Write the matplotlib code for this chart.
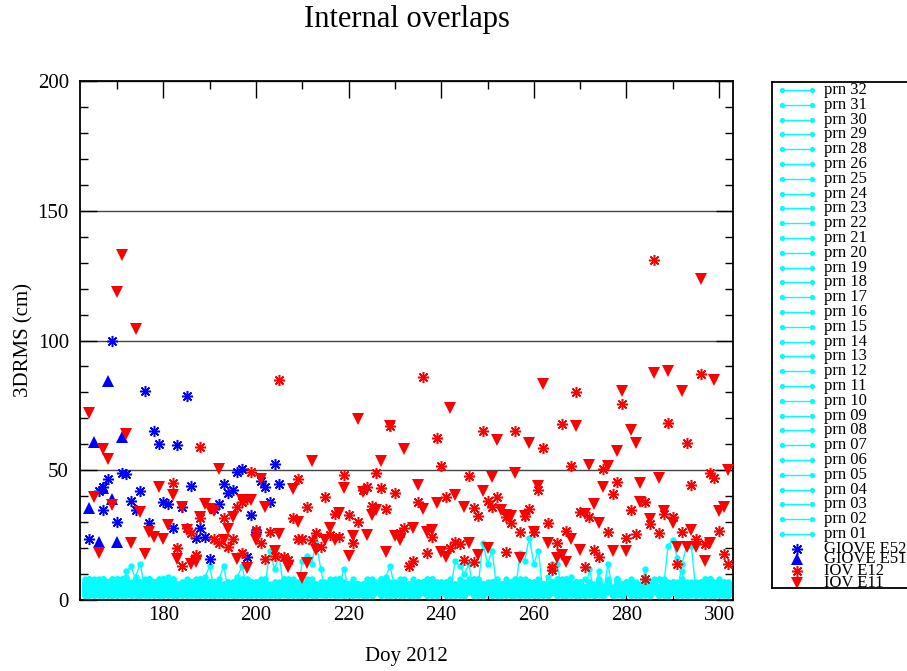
import numpy as np
import matplotlib
matplotlib.use("Agg")
import matplotlib.pyplot as plt
from matplotlib.ticker import MultipleLocator

plt.rcParams['font.family'] = ['Liberation Serif', 'DejaVu Serif']

# ---------------- data ----------------
FIRST_DAY = 163
# daily 3DRMS (cm) per GPS prn, one character per day from doy 163 (base-36 digit)
PRN_NAMES = ["prn 32", "prn 31", "prn 30", "prn 29", "prn 28", "prn 26", "prn 25", "prn 24",
             "prn 23", "prn 22", "prn 21", "prn 20", "prn 19", "prn 18", "prn 17", "prn 16",
             "prn 15", "prn 14", "prn 13", "prn 12", "prn 11", "prn 10", "prn 09", "prn 08",
             "prn 07", "prn 06", "prn 05", "prn 04", "prn 03", "prn 02", "prn 01"]
PRN_DAILY = [
    "4635243726 3452634257 3243524362 4325342634 2435243625 3425342634 2354326543 2435324635 3246532453 4235342563 2453624354 3524352643 2435362452 3542634253",
    "2547362435 6243527342 4362534273 2534263524 3426352435 2436243524 3524362435 4253426354 2436524352 3425436253 4352634253 2436352435 3524263542 4352436253",
    "6857465786 5746857647 6587465746 5748657465 6475846576 4657486574 5764857465 6547586475 4658475647 5746584756 6475867546 4756485746 5847564758 4657485647",
    "3462538264 3527362453 4263524372 4352436253 3524362435 2634253624 3524352643 2536243526 3425342634 2543624352 3524362534 2634253426 3524352634 2536243526",
    "6243725346 2547263524 3625437253 2436253425 4352634253 2435342536 4253624352 3524263543 2634253524 3426352435 2534263524 3625342536 4253426352 3524362453",
    "2736452837 4253624735 2436253425 3625342634 2536243524 3425362435 2534263524 3524352436 4253426352 2634253624 3524362435 2435263524 3624352634 2543524362",
    "7568476587 6475867548 5746587465 4657486574 5748657468 6574856475 4756486574 6574857465 5847564758 6475846576 4758647586 5647586475 6574856475 7465847564",
    "3725463527 2435263742 5243624352 3524352634 2635243624 3524263542 2436352435 3524362534 2435263524 3624352436 2534262435 3524263524 3625342534 2436253426",
    "5243627354 3725462534 2634253426 3524362435 2534263524 3624352634 2435243625 3526342534 2436243524 3524362453 2634253426 3425342634 2536243524 3524362435",
    "2634725436 2543627352 4352634253 2435263524 3624352436 2534253624 3425362435 2634253524 3524263542 4253426352 3524362435 2634253426 3524352634 2536243524",
    "5746857468 7564857486 4657485746 6574865748 4758647586 5647586475 6584756485 4756485746 6475846576 5748657465 6587465746 4657486574 5764857465 6547586475",
    "4263527364 2537264352 3624352436 2534253624 3426352435 2634253524 3524263542 2436352435 3524362534 2435263524 3624352436 2534262435 3524263524 3625342534",
    "2836452736 3452736254 2354326543 2435324635 2435243625 3425342634 4235342563 3246532453 3524352643 2453624354 3542634253 2435362452 3426352435 2534263524",
    "5427363524 6253742635 2436243524 3426352435 4253426354 3524362435 3425436253 2436524352 2436352435 4352634253 4352436253 3524263542 3524352634 2634253426",
    "8465748576 6857468574 5647586475 4758647586 6574856475 4756486574 5847564758 6475867546 4657485647 6857465786 5746857647 4658475647 5746584756 6475846576",
    "4736253847 3526374253 4352436253 4263524372 2634253624 3524362435 2536243526 3524352643 2543624352 3425342634 2634253426 3524362534 2536243526 3524352634",
    "2537462536 4725362847 2436253425 3625437253 2435342536 4352634253 3524263543 4253624352 3426352435 2634253524 3625342536 2534263524 3524362453 4253426352",
    "6352746352 3647253624 3625342634 2436253425 3425362435 2536243524 3524352436 2534263524 2634253624 4253426352 2435263524 3524362435 2543524362 3624352634",
    "6574867584 5847568746 6475846576 5746584756 4658475647 6547586475 5764857465 4657486574 6475846576 5748657465 6587465746 4756485746 5847564758 4657485647",
    "4725364725 3624735263 3524352634 5243624352 3524263542 2635243624 3524362534 2436352435 3624352436 2435263524 3524263524 2534262435 2436253426 3625342534",
    "2635473625 4263725364 3524362435 2634253426 3624352634 2534263524 3526342534 2435243625 3524362453 2436243524 3425342634 2634253426 3524362435 2536243524",
    "5362748352 6374253627 2435263524 4352634253 2534253624 3624352436 2634253524 3425362435 4253426352 3524263542 2634253426 3524362435 2536243524 3524352634",
    "7586475869 4758647596 4657485746 6574865748 5647586475 4758647586 6574856475 5847564758 4756486574 6475867546 5746857647 6857465786 4658475647 5746584756",
    "4263857263 5243627354 2534253624 3624352436 2634253524 3426352435 3524362534 3524263542 3624352436 2436352435 3524263524 2435263524 3625342534 2534262435",
    "2735462537 3624835263 3425342634 2435243625 2435324635 2354326543 4235342563 3246532453 3524352643 2453624354 3542634253 2435362452 3426352435 2534263524",
    "6374253627 2536472635 2436243524 3426352435 4253426354 3524362435 3425436253 2436524352 2436352435 4352634253 4352436253 3524263542 3524352634 2634253426",
    "3526374825 4736252837 2435243624 3625342536 2543624352 2534262435 3524352436 2543625342 3624352434 2634253426 3524362453 2536243524 3524352634 3624352436",
    "4835263724 3627352846 3524362435 4352436253 4263524372 3524352643 2634253624 3425342634 2536243526 3524362534 2543624352 3524352634 2634253426 2536243526",
    "2647352638 5263742536 4352634253 2436253425 3625437253 4253624352 2435342536 2634253524 3524263543 2534263524 3426352435 4253426352 3625342536 3524362453",
    "5273645273 3526374852 2536243524 3625342634 2436253425 2534263524 3425362435 4253426352 3524352436 3524362435 2634253624 3624352634 2435263524 2543524362",
    "3645273625 4735263748 3524263542 2436243524 3524362453 3425342634 4253624352 3624352436 2536243525 3426352435 2534253624 3524352634 2634253624 2435263542",
]
# occasional larger values (doy: cm)
PRN_PEAKS = {
    "prn 05": {172: 11, 173: 13, 174: 8},
    "prn 12": {174: 9, 175: 14},
    "prn 19": {189: 9, 190: 13},
    "prn 22": {192: 8, 193: 13},
    "prn 03": {196: 9, 197: 13},
    "prn 17": {203: 19, 204: 12, 205: 17},
    "prn 24": {210: 15, 211: 17, 212: 14, 213: 22, 214: 12},
    "prn 08": {219: 12},
    "prn 30": {228: 9, 229: 13},
    "prn 14": {243: 15, 244: 13, 245: 10, 246: 14},
    "prn 20": {249: 22, 250: 14, 251: 19},
    "prn 29": {257: 18, 258: 15, 259: 24, 260: 14, 261: 19},
    "prn 10": {263: 9, 264: 14, 265: 14},
    "prn 01": {268: 9, 272: 12, 274: 11, 276: 14},
    "prn 16": {284: 12},
    "prn 26": {289: 21, 290: 23, 291: 16, 292: 11},
    "prn 06": {292: 14, 293: 21, 294: 21},
    "prn 11": {300: 8},
}

E11_DAY = [164, 165, 167, 168, 169, 170, 171, 172, 174, 175, 166, 173, 176, 177, 178, 179, 180, 181,
           182, 183, 184, 185, 186, 187, 188, 189, 190, 191, 192, 193, 194, 195, 196, 197, 198, 199,
           200, 201, 202, 204, 205, 207, 208, 209, 210, 211, 212, 213, 215, 216, 217, 218, 219, 220,
           221, 222, 223, 224, 225, 226, 227, 228, 229, 230, 231, 232, 234, 235, 236, 237, 238, 239,
           240, 241, 242, 243, 245, 246, 248, 249, 250, 251, 252, 253, 254, 255, 256, 257, 258, 259,
           260, 261, 262, 263, 265, 266, 267, 268, 269, 270, 271, 272, 273, 274, 275, 276, 277, 278,
           279, 280, 281, 282, 283, 283, 285, 286, 287, 288, 289, 290, 291, 292, 293, 294, 295, 296,
           297, 298, 299, 300, 301, 302]
E11_VAL = [72.2, 39.8, 58.3, 54.2, 36.6, 118.7, 132.9, 64.0, 104.3, 33.8, 18.0, 21.8, 17.6, 26.3,
           24.4, 43.5, 23.5, 28.9, 40.5, 15.8, 36.0, 27.0, 13.9, 14.8, 31.9, 36.9, 35.1, 34.3, 50.4,
           23.1, 27.2, 31.9, 15.7, 38.5, 12.2, 38.5, 23.1, 46.6, 36.0, 18.9, 25.3, 12.8, 42.8, 30.2,
           8.6, 14.1, 53.7, 19.3, 23.1, 27.6, 23.1, 33.6, 43.3, 17.0, 24.7, 69.6, 41.5, 25.0, 32.8,
           34.7, 53.7, 18.6, 67.0, 24.7, 23.1, 58.2, 27.9, 44.3, 35.1, 26.3, 27.0, 37.3, 18.6, 16.7,
           73.9, 40.5, 36.0, 21.8, 17.3, 42.0, 19.9, 47.3, 61.7, 34.7, 32.8, 32.5, 48.8, 16.3, 32.4,
           60.6, 26.1, 43.9, 83.1, 22.1, 16.1, 17.3, 14.8, 23.4, 67.2, 19.3, 33.1, 52.0, 36.9, 29.6,
           43.7, 51.6, 19.0, 57.5, 80.5, 18.9, 65.5, 60.6, 45.2, 37.9, 31.2, 87.6, 46.9, 34.4, 88.2,
           29.8, 20.5, 80.5, 20.5, 27.0, 20.5, 123.7, 15.1, 22.1, 84.8, 34.4, 35.7, 50.1]

E12_DAY = [188, 205, 209, 182, 185, 186, 188, 191, 192, 193, 194, 195, 196, 197, 198, 199, 200, 201,
           203, 209, 183, 184, 187, 197, 202, 204, 206, 207,
           236, 229, 239, 249, 240, 219, 226, 223, 224, 227, 230, 215, 211, 225, 228, 235, 241, 246,
           247, 248, 250, 251, 252, 254, 217, 220, 222, 208, 210, 212, 213, 216, 218, 214, 221, 232,
           231, 238, 233, 234, 237, 242, 243, 244, 245, 247, 254,
           296, 269, 279, 266, 289, 256, 262, 293, 268, 275, 298, 299, 278, 294, 261, 277, 281, 284,
           285, 288, 290, 259, 255, 258, 263, 270, 272, 257, 260, 267, 276, 280, 282, 287, 292, 295,
           297, 300, 301, 302, 265, 264, 264, 273, 274, 271, 291, 284, 286]
E12_VAL = [59.0, 84.7, 46.5, 45.2, 27.6, 25.9, 31.7, 23.4, 21.8, 31.7, 20.5, 23.5, 36.0, 37.9, 38.8,
           49.2, 27.0, 21.8, 26.3, 23.4, 20.2, 13.1, 17.3, 18.0, 15.8, 17.0, 16.4, 15.4,
           85.8, 67.0, 62.6, 65.3, 51.8, 48.2, 49.1, 42.4, 43.7, 43.0, 41.1, 39.6, 36.0, 36.2, 35.1,
           37.9, 39.6, 47.9, 35.6, 32.4, 38.2, 36.0, 39.8, 32.1, 33.0, 32.8, 30.2, 31.5, 23.4, 23.1,
           25.7, 25.0, 24.4, 20.5, 21.8, 27.6, 25.7, 24.4, 13.2, 15.0, 18.2, 19.9, 22.5, 21.6, 15.4,
           14.8, 18.6,
           87.1, 80.2, 75.4, 67.8, 68.1, 65.3, 58.7, 60.4, 51.6, 50.5, 48.8, 46.9, 45.6, 44.2, 42.4,
           40.7, 34.7, 37.9, 29.3, 33.1, 32.1, 34.9, 29.6, 32.4, 29.6, 33.9, 32.1, 26.3, 26.1, 26.7,
           26.1, 24.0, 25.4, 25.9, 26.3, 23.5, 21.5, 26.7, 17.6, 13.8, 22.1, 12.8, 11.6, 19.3, 16.7,
           12.8, 13.9, 8.1, 131.0]

E52_DAY = [169, 176, 185, 178, 179, 183, 171, 172, 196, 197, 204, 201, 202, 205, 168, 167, 166, 167,
           173, 175, 174, 180, 181, 184, 186, 191, 192, 193, 194, 195, 203, 199, 177, 182, 170, 187,
           188, 189, 200, 164, 190, 198]
E52_VAL = [99.8, 80.4, 78.6, 65.0, 60.1, 59.9, 49.1, 48.4, 49.4, 50.4, 52.3, 45.9, 43.7, 44.6, 46.5,
           43.7, 42.0, 34.7, 38.1, 42.1, 34.7, 37.9, 36.9, 36.0, 44.0, 35.0, 36.9, 44.7, 41.1, 42.4,
           37.9, 32.8, 29.5, 27.6, 29.9, 23.8, 27.6, 24.4, 26.1, 23.5, 15.8, 16.7]

E51_DAY = [168, 171, 165, 167, 169, 164, 166, 170]
E51_VAL = [84.4, 62.9, 61.0, 43.0, 38.9, 35.3, 22.5, 22.5]

TITLE = "Internal overlaps"
XLABEL = "Doy 2012"
YLABEL = "3DRMS (cm)"
SAT_LABELS = ["GIOVE E52", "GIOVE E51", "IOV E12", "IOV E11"]


def decode(s):
    s = s.replace(" ", "")
    return np.array([int(c, 36) for c in s], dtype=float)


CYAN = "#00ffff"
RED = "#ff0000"
BLUE = "#0000ff"
W, H = 907, 671

fig = plt.figure(figsize=(W / 100, H / 100), dpi=100)
ax = fig.add_axes([80 / W, 1 - 600 / H, (733 - 80) / W, (600 - 81) / H])

for name, s in zip(PRN_NAMES, PRN_DAILY):
    vals = decode(s)
    days = FIRST_DAY + np.arange(len(vals))
    for d, v in PRN_PEAKS.get(name, {}).items():
        vals[d - FIRST_DAY] = v
    ax.plot(days, vals, '-', color=CYAN, lw=1.0, marker='o', ms=4.6,
            mfc=CYAN, mec=CYAN, mew=0, zorder=2)

ast = (8, 2, 0)
ax.plot(E52_DAY, E52_VAL, ls='none', marker=ast, ms=8, mec=BLUE, mew=1.1, zorder=3)
ax.plot(E51_DAY, E51_VAL, ls='none', marker='^', ms=8, mfc=BLUE, mec=BLUE, mew=0, zorder=3)
ax.plot(E12_DAY, E12_VAL, ls='none', marker=ast, ms=8, mec=RED, mew=1.1, zorder=3)
ax.plot(E11_DAY, E11_VAL, ls='none', marker='v', ms=8, mfc=RED, mec=RED, mew=0, zorder=3)

ax.set_xlim(162, 303)
ax.set_ylim(0, 200)
ax.xaxis.set_major_locator(MultipleLocator(20))
ax.xaxis.set_minor_locator(MultipleLocator(10))
ax.yaxis.set_major_locator(MultipleLocator(50))
ax.yaxis.set_minor_locator(MultipleLocator(10))
ax.tick_params(which='both', direction='in', top=True, right=True, labelsize=15, width=1.0)
ax.tick_params(which='major', length=12, pad=4)
ax.tick_params(which='minor', length=6)
ax.tick_params(axis='y', pad=8)
ax.yaxis.grid(True, which='major', color='#444444', lw=1.0)
ax.set_axisbelow(True)
for sp in ax.spines.values():
    sp.set_linewidth(1.3)

fig.text(406.5 / W, 1 - 20 / H, TITLE, ha='center', va='center', fontsize=22)
fig.text(406.5 / W, 1 - 657 / H, XLABEL, ha='center', va='center', fontsize=15)
fig.text(24 / W, 1 - 340 / H, YLABEL, ha='center', va='center', rotation=90, fontsize=15)

# legend panel
lax = fig.add_axes([772 / W, 1 - 588 / H, (935 - 772) / W, (588 - 82) / H])
lax.set_xlim(772, 935)
lax.set_ylim(588, 82)
lax.set_xticks([])
lax.set_yticks([])
for sp in lax.spines.values():
    sp.set_linewidth(1.3)
for i, name in enumerate(PRN_NAMES):
    y = 90 + i * 14.8
    lax.plot([782, 812], [y, y], '-', color=CYAN, lw=1.0, marker='o', ms=3.8, mew=0, mfc=CYAN)
    lax.text(824, y, name, ha='left', va='center', fontsize=12)
sat_y = [549, 559, 571, 583]
sat_mk = [ast, '^', ast, 'v']
sat_col = [BLUE, BLUE, RED, RED]
for lab, y, mk, c in zip(SAT_LABELS, sat_y, sat_mk, sat_col):
    if mk == ast:
        lax.plot([797], [y], ls='none', marker=mk, ms=8, mec=c, mew=1.1)
    else:
        lax.plot([797], [y], ls='none', marker=mk, ms=8, mfc=c, mec=c, mew=0)
    lax.text(824, y, lab, ha='left', va='center', fontsize=12)

fig.savefig("out.png", dpi=100)
